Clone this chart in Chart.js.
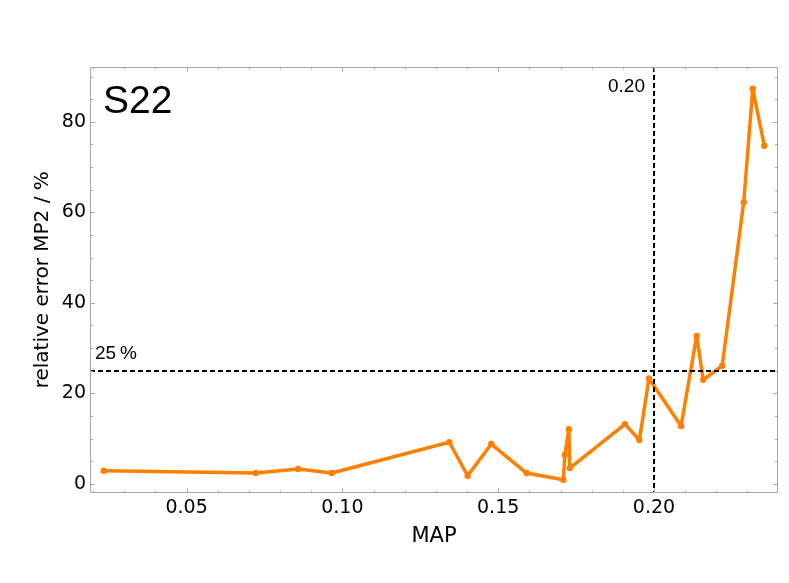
<!DOCTYPE html>
<html>
<head>
<meta charset="utf-8">
<script src="https://cdn.jsdelivr.net/npm/chart.js@4.4.0/dist/chart.umd.min.js"></script>
<style>
  html, body { margin: 0; padding: 0; background: #fff; }
  canvas { display: block; }
</style>
</head>
<body>
<canvas id="grafico" width="789" height="583"></canvas>
<script>
// S22: erro relativo MP2 em função do MAP
const mapValues = [0.0234, 0.0722, 0.0858, 0.0966, 0.1343, 0.1402, 0.1478, 0.1591, 0.1709, 0.1714, 0.1727, 0.1730,
  0.1907, 0.1953, 0.1984, 0.2087, 0.2137, 0.2158, 0.2219, 0.2288, 0.2317, 0.2354];
const errorValues = [2.9, 2.4, 3.3, 2.4, 9.2, 1.8, 8.8, 2.4, 0.9, 6.4, 12.1, 3.5,
  13.2, 9.7, 23.3, 12.8, 32.7, 23.0, 26.1, 62.2, 87.3, 74.7];

// marcas dos eixos (menores + rotuladas)
const xTickValues = [0.02, 0.03, 0.04, 0.05, 0.06, 0.07, 0.08, 0.09, 0.10, 0.11, 0.12,
  0.13, 0.14, 0.15, 0.16, 0.17, 0.18, 0.19, 0.20, 0.21, 0.22, 0.23];
const xTickLabels = [0.05, 0.10, 0.15, 0.20];
const yTickValues = [0, 5, 10, 15, 20, 25, 30, 35, 40, 45, 50, 55, 60, 65, 70, 75, 80, 85, 90];
const yTickLabels = [0, 20, 40, 60, 80];

// linhas de referência
const thresholdMap = 0.20;
const thresholdError = 25;

const isLabel = (list, v) => list.some(l => Math.abs(l - v) < 1e-9);

const moldura = {
  id: 'moldura',
  afterDatasetsDraw(chart) {
    const { ctx, chartArea, scales: { x, y } } = chart;
    const left = Math.round(chartArea.left), right = Math.round(chartArea.right);
    const top = Math.round(chartArea.top), bottom = Math.round(chartArea.bottom);
    ctx.save();

    // linhas tracejadas
    ctx.strokeStyle = '#000';
    ctx.lineWidth = 2;
    ctx.setLineDash([5, 3]);
    const px = Math.round(x.getPixelForValue(thresholdMap));
    const py = Math.round(y.getPixelForValue(thresholdError));
    ctx.beginPath();
    ctx.moveTo(px, top); ctx.lineTo(px, bottom);
    ctx.moveTo(left, py); ctx.lineTo(right, py);
    ctx.stroke();
    ctx.setLineDash([]);

    // moldura cinza
    ctx.strokeStyle = '#a8a8a8';
    ctx.lineWidth = 1;
    ctx.strokeRect(left + 0.5, top + 0.5, right - left - 1, bottom - top - 1);

    // marcas para dentro nos quatro lados
    ctx.beginPath();
    xTickValues.forEach(v => {
      const tx = Math.round(x.getPixelForValue(v)) + 0.5;
      const len = isLabel(xTickLabels, v) ? 4.5 : 2.5;
      ctx.moveTo(tx, bottom); ctx.lineTo(tx, bottom - len);
      ctx.moveTo(tx, top); ctx.lineTo(tx, top + len);
    });
    yTickValues.forEach(v => {
      const ty = Math.round(y.getPixelForValue(v)) + 0.5;
      const len = isLabel(yTickLabels, v) ? 5 : 3;
      ctx.moveTo(left, ty); ctx.lineTo(left + len, ty);
      ctx.moveTo(right, ty); ctx.lineTo(right - len, ty);
    });
    ctx.stroke();

    // textos dentro do gráfico
    ctx.fillStyle = '#000';
    ctx.textBaseline = 'alphabetic';
    ctx.font = '39px "Liberation Sans", Arial, sans-serif';
    ctx.textAlign = 'left';
    ctx.fillText('S22', left + 13, top + 46);

    ctx.font = '19px "Liberation Sans", Arial, sans-serif';
    ctx.textAlign = 'right';
    ctx.fillText('0.20', px - 9, top + 25);
    ctx.textAlign = 'left';
    ctx.fillText('25\u2009%', left + 5, py - 12);
    ctx.restore();
  }
};

const ctx = document.getElementById('grafico').getContext('2d');
const tickFont = { family: '"DejaVu Sans", sans-serif', size: 19 };
const titleFont = { family: '"DejaVu Sans", sans-serif', size: 20 };

new Chart(ctx, {
  type: 'line',
  data: {
    datasets: [{
      data: mapValues.map((m, i) => ({ x: m, y: errorValues[i] })),
      borderColor: '#ff8000',
      backgroundColor: '#ff8000',
      borderWidth: 3.5,
      borderJoinStyle: 'round',
      borderCapStyle: 'round',
      pointRadius: 3.2,
      pointHoverRadius: 3.2,
      pointBorderWidth: 0,
      tension: 0,
      fill: false
    }]
  },
  options: {
    responsive: false,
    animation: false,
    devicePixelRatio: 1,
    layout: { padding: { top: 67, right: 11, left: 0, bottom: 0 } },
    plugins: { legend: { display: false }, tooltip: { enabled: false } },
    scales: {
      x: {
        type: 'linear',
        min: 0.019,
        max: 0.2398,
        afterBuildTicks: s => { s.ticks = xTickValues.map(v => ({ value: v })); },
        afterFit: s => { s.height = 90.5; },
        grid: { display: false, drawTicks: false },
        border: { display: false },
        ticks: {
          autoSkip: false,
          maxRotation: 0,
          padding: 4,
          color: '#000',
          font: tickFont,
          callback: v => isLabel(xTickLabels, v) ? v.toFixed(2) : ''
        },
        title: { display: true, text: 'MAP', color: '#000', font: { family: '"DejaVu Sans", sans-serif', size: 21 }, padding: { top: 0, bottom: 34 } }
      },
      y: {
        type: 'linear',
        min: -1.9,
        max: 92.1,
        afterBuildTicks: s => { s.ticks = yTickValues.map(v => ({ value: v })); },
        afterFit: s => { s.width = 90; },
        grid: { display: false, drawTicks: false },
        border: { display: false },
        ticks: {
          autoSkip: false,
          padding: 4,
          color: '#000',
          font: tickFont,
          callback: v => isLabel(yTickLabels, v) ? String(v) : ''
        },
        title: { display: true, text: 'relative error MP2 / %', color: '#000', font: titleFont, padding: { top: 31, bottom: 0 } }
      }
    }
  },
  plugins: [moldura]
});
</script>
</body>
</html>
